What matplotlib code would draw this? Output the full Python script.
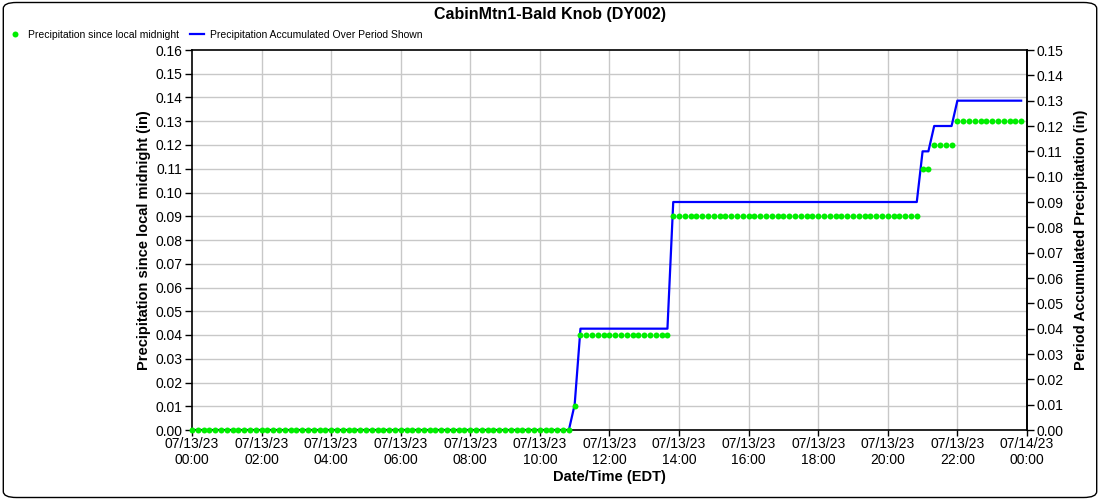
import numpy as np
import matplotlib.pyplot as plt
from matplotlib.patches import FancyBboxPatch

plt.rcParams['font.family'] = ['Liberation Sans', 'DejaVu Sans']

# 10-minute observations, stored as runs of constant value (hours from local midnight)
run_start_hours = [0.0, 11.0, 11 + 10 / 60, 13 + 50 / 60, 21.0, 21 + 20 / 60, 22.0]
run_values = [0.00, 0.01, 0.04, 0.09, 0.11, 0.12, 0.13]
run_counts = [66, 1, 16, 43, 2, 4, 12]

hours = np.arange(sum(run_counts)) * 10 / 60
since_midnight = np.repeat(run_values, run_counts)
period_accum = np.repeat(run_values, run_counts)

xtick_hours = list(range(0, 25, 2))
xtick_labels = ['07/13/23\n%02d:00' % h for h in range(0, 24, 2)] + ['07/14/23\n00:00']

fig = plt.figure(figsize=(11, 5), dpi=100)
ax = fig.add_axes([0.1745, 0.14, 0.7591, 0.76])
ax2 = ax.twinx()
for side in ('left', 'bottom', 'top'):
    ax2.spines[side].set_visible(False)

# blue line below the dots, grid below both
ax2.set_zorder(0)
ax.set_zorder(1)
ax.patch.set_visible(False)
ax2.patch.set_visible(True)
ax2.patch.set_facecolor('white')

ax.plot(hours, since_midnight, 'o', color='#00ee00', markersize=4.3,
        markeredgewidth=0, label='Precipitation since local midnight', zorder=3, clip_on=False)
ax2.plot(hours, period_accum, '-', color='#0000ff', linewidth=1.6, zorder=2,
         label='Precipitation Accumulated Over Period Shown')

ax.set_xlim(0, 24)
ax.set_ylim(0, 0.16)
ax2.set_ylim(0, 0.15)
ax.set_xticks(xtick_hours)
ax.set_xticklabels(xtick_labels, linespacing=1.25)
ax.set_yticks(np.arange(0, 0.1601, 0.01))
ax.set_yticklabels(['%.2f' % v for v in np.arange(0, 0.1601, 0.01)])
ax2.set_yticks(np.arange(0, 0.1501, 0.01))
ax2.set_yticklabels(['%.2f' % v for v in np.arange(0, 0.1501, 0.01)])

# grid drawn on the lower (twin) axes so it sits under the blue line
for h in xtick_hours[1:-1]:
    ax2.axvline(h, color='#c8c8c8', linewidth=1, zorder=0)
for v in np.arange(0.01, 0.16, 0.01):
    ax2.axhline(v * 0.15 / 0.16, color='#c8c8c8', linewidth=1, zorder=0)

for a in (ax, ax2):
    a.tick_params(labelsize=10, length=5, width=1, colors='black', pad=2)
    for s in a.spines.values():
        s.set_linewidth(1.2)
ax.tick_params(axis='x', length=4, pad=0.8)

ax.set_xlabel('Date/Time (EDT)', fontsize=10.5, fontweight='bold', labelpad=1.5)
ax.set_ylabel('Precipitation since local midnight (in)', fontsize=10.5, fontweight='bold', labelpad=3)
ax2.set_ylabel('Period Accumulated Precipitation (in)', fontsize=10.5, fontweight='bold', labelpad=7)
fig.suptitle('CabinMtn1-Bald Knob (DY002)', fontsize=11.5, fontweight='bold', y=0.985)

h1, l1 = ax.get_legend_handles_labels()
h2, l2 = ax2.get_legend_handles_labels()
fig.legend(h1 + h2, l1 + l2, loc='upper left', bbox_to_anchor=(-0.001, 0.959), ncol=2,
           frameon=False, fontsize=7.5, handlelength=1.35, columnspacing=1.0, handletextpad=0.58)

fig.patches.append(FancyBboxPatch((0.003, 0.005), 0.994, 0.99, boxstyle='round,pad=0,rounding_size=0.012',
                                  transform=fig.transFigure, fill=False, edgecolor='black', linewidth=1))

fig.savefig('out.png', dpi=100)
